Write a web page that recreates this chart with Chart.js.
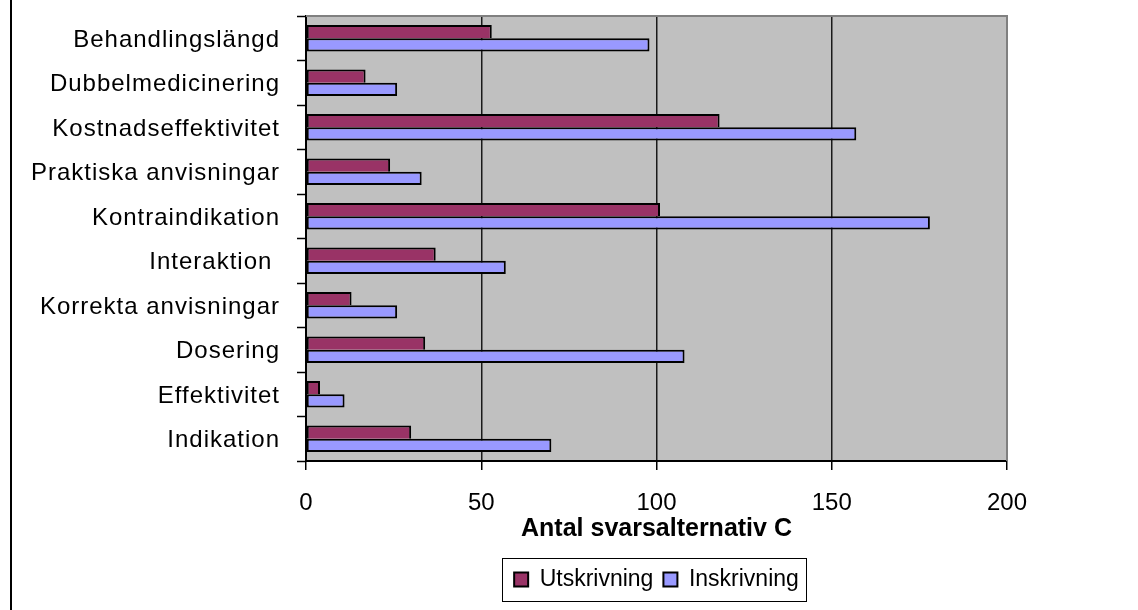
<!DOCTYPE html>
<html>
<head>
<meta charset="utf-8">
<script src="https://cdn.jsdelivr.net/npm/chart.js@4/dist/chart.umd.min.js"></script>
<style>
  html, body { margin: 0; padding: 0; background: #ffffff; }
  #wrap { position: relative; width: 1138px; height: 610px; }
  canvas { display: block; }
</style>
</head>
<body>
<div id="wrap"><canvas id="chart" width="1138" height="610"></canvas></div>
<script>
// Categories, top to bottom
const categories = [
  'Behandlingslängd',
  'Dubbelmedicinering',
  'Kostnadseffektivitet',
  'Praktiska anvisningar',
  'Kontraindikation',
  'Interaktion ',
  'Korrekta anvisningar',
  'Dosering',
  'Effektivitet',
  'Indikation'
];

// Number of C answers per category
const utskrivning = [53, 17, 118, 24, 101, 37, 13, 34, 4, 30];
const inskrivning = [98, 26, 157, 33, 178, 57, 26, 108, 11, 70];

const seriesNames = ['Utskrivning', 'Inskrivning'];
const xTicks = [0, 50, 100, 150, 200];
const xTitle = 'Antal svarsalternativ C';

const FONT = "'Liberation Sans', Arial, sans-serif";

// Grey plot background, page frame line, plot frame and legend box
const decorations = {
  id: 'decorations',
  beforeDraw(chart) {
    const { ctx, chartArea: a } = chart;
    ctx.save();
    ctx.fillStyle = '#c0c0c0';
    ctx.fillRect(a.left, a.top, a.right - a.left, a.bottom - a.top);
    ctx.fillStyle = '#000';
    ctx.fillRect(10, 0, 2, chart.height);
    ctx.restore();
  },
  afterDraw(chart) {
    const { ctx, chartArea: a } = chart;
    ctx.save();
    ctx.strokeStyle = '#808080';
    ctx.lineWidth = 2;
    ctx.beginPath();
    ctx.moveTo(a.left, a.top);
    ctx.lineTo(a.right, a.top);
    ctx.lineTo(a.right, a.bottom);
    ctx.stroke();

    const lg = chart.legend;
    const boxes = lg.legendHitBoxes;
    if (boxes && boxes.length) {
      const first = boxes[0];
      const last = boxes[boxes.length - 1];
      const x0 = Math.round(first.left - 12) + 0.5;
      const x1 = Math.round(last.left + last.width + 7) + 0.5;
      const y0 = Math.round(lg.top) + 0.5;
      const y1 = Math.round(lg.bottom) + 0.5;
      ctx.strokeStyle = '#000';
      ctx.lineWidth = 1;
      ctx.strokeRect(x0, y0, x1 - x0, y1 - y0);
    }
    ctx.restore();
  }
};

// Category labels are set with a little extra tracking
const trackedLabels = {
  id: 'trackedLabels',
  afterUpdate(chart) {
    const y = chart.scales.y;
    if (y && !y._tracked) {
      const draw = y.drawLabels.bind(y);
      y.drawLabels = function (area) {
        const ctx = this.ctx;
        ctx.save();
        ctx.letterSpacing = '1px';
        ctx.translate(0, 2);
        draw(area);
        ctx.restore();
      };
      y._tracked = true;
    }
  }
};

new Chart(document.getElementById('chart'), {
  type: 'bar',
  data: {
    labels: categories,
    datasets: [
      {
        label: seriesNames[0],
        data: utskrivning,
        backgroundColor: '#993366',
        borderColor: '#000',
        borderWidth: 2,
        borderSkipped: 'bottom',
        categoryPercentage: 0.6,
        barPercentage: 1.0
      },
      {
        label: seriesNames[1],
        data: inskrivning,
        backgroundColor: '#9999ff',
        borderColor: '#000',
        borderWidth: 2,
        borderSkipped: false,
        categoryPercentage: 0.6,
        barPercentage: 1.0
      }
    ]
  },
  options: {
    indexAxis: 'y',
    responsive: false,
    animation: false,
    devicePixelRatio: 1,
    layout: { padding: { top: 16, right: 131, bottom: 9, left: 0 } },
    scales: {
      x: {
        type: 'linear',
        min: 0,
        max: 200,
        afterBuildTicks(scale) { scale.ticks = xTicks.map(v => ({ value: v })); },
        afterFit(scale) {
          scale.height = 97;
          scale.paddingLeft = 0;
          scale.paddingRight = 0;
        },
        ticks: {
          color: '#000',
          padding: 19,
          font: { family: FONT, size: 24 }
        },
        grid: {
          color: ctx => (ctx.tick && (ctx.tick.value === 0 || ctx.tick.value === 200)) ? 'rgba(0,0,0,0)' : '#1a1a1a',
          lineWidth: 1.5,
          tickColor: '#000',
          tickLength: 9,
          tickWidth: 1.5
        },
        border: { color: '#000', width: 2 },
        title: {
          display: true,
          text: xTitle,
          color: '#000',
          font: { family: FONT, size: 25, weight: 'bold' },
          padding: { top: 0, bottom: 14 }
        }
      },
      y: {
        afterFit(scale) {
          scale.width = 306;
          scale.paddingTop = 0;
          scale.paddingBottom = 0;
        },
        ticks: {
          color: '#000',
          padding: 17,
          font: { family: FONT, size: 24 }
        },
        grid: {
          drawOnChartArea: false,
          tickColor: '#000',
          tickLength: 9,
          tickWidth: 1.5
        },
        border: { color: '#000', width: 2 }
      }
    },
    plugins: {
      legend: {
        position: 'bottom',
        fullSize: false,
        labels: {
          color: '#000',
          boxWidth: 14,
          boxHeight: 14,
          padding: 10,
          font: { family: FONT, size: 23 }
        }
      },
      tooltip: { enabled: false }
    }
  },
  plugins: [decorations, trackedLabels]
});
</script>
</body>
</html>
